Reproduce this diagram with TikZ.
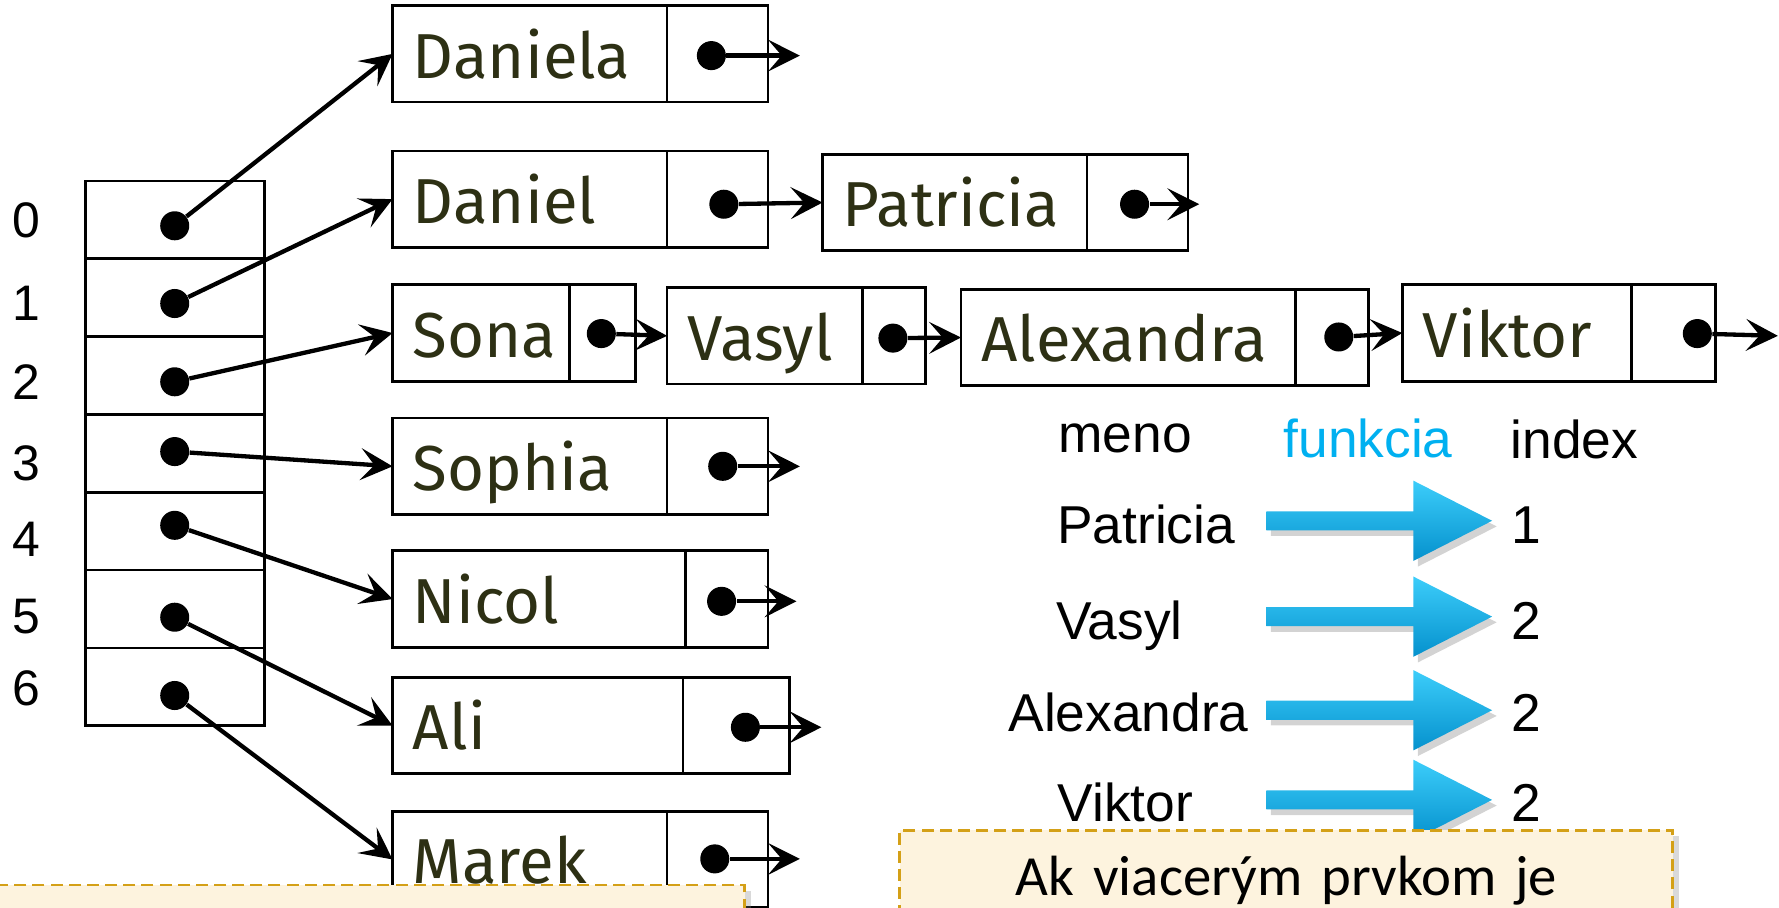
\documentclass[tikz,border=0pt]{standalone}
\usepackage{fontspec}
\setmainfont{Liberation Sans}
\newfontfamily\namefont{Fira Sans}
\newfontfamily\notefont{Carlito}
\usepackage{tikz}
\usetikzlibrary{arrows.meta, positioning, shapes.arrows, shadows}
\definecolor{namecol}{RGB}{45,48,20}
\definecolor{hashblue}{RGB}{0,176,240}
\definecolor{arrowtop}{RGB}{60,205,250}
\definecolor{arrowbot}{RGB}{5,145,205}
\definecolor{notegold}{RGB}{212,160,23}
\definecolor{notefill}{RGB}{253,243,222}

\begin{document}
\begin{tikzpicture}[x=0.5pt, y=-0.5pt,
    slot/.style={rectangle, draw, line width=1.2pt, outer sep=0pt, minimum width=78.75pt, minimum height=34.3pt},
    namecell/.style={rectangle, draw, line width=1.2pt, outer sep=0pt, inner xsep=9pt, inner ysep=0pt, minimum height=42.5pt, text width=#1, align=left, font=\namefont\fontsize{28}{28}\selectfont, text=namecol, text height=21.3pt, text depth=0pt},
    ptrcell/.style={rectangle, draw, line width=1.2pt, outer sep=0pt, minimum height=42.5pt, minimum width=#1},
    dot/.style={circle, fill=black, inner sep=0pt, minimum size=12.8pt},
    ptr/.style={line width=1.9pt, -{Stealth[length=14pt, width=14pt, inset=6pt]}},
    lbl/.style={font=\fontsize{22}{22}\selectfont},
    txt/.style={font=\fontsize{23.5}{23.5}\selectfont, anchor=base west, inner sep=0pt},
    hash/.style={single arrow, single arrow tip angle=54, single arrow head extend=13.5pt, inner sep=4pt, minimum height=99.5pt, anchor=tip, draw=none, top color=arrowtop, bottom color=arrowbot, drop shadow={shadow xshift=2pt, shadow yshift=-2.5pt, opacity=.35}},
    note/.style={rectangle, draw=notegold, fill=notefill, line width=1.3pt, dash pattern=on 5.3pt off 2.7pt, outer sep=0pt, drop shadow={shadow xshift=2.5pt, shadow yshift=-2.5pt, opacity=.3}}]
    \useasboundingbox (0,0) rectangle (1568,800);
    \clip (0,0) rectangle (1568,800);

    % hash table
    \node[slot] (s0) at (154.25, 193.8) {};
    \node[slot] (s1) at (154.25, 262.4) {};
    \node[slot] (s2) at (154.25, 331) {};
    \node[slot] (s3) at (154.25, 399.6) {};
    \node[slot] (s4) at (154.25, 468.2) {};
    \node[slot] (s5) at (154.25, 536.8) {};
    \node[slot] (s6) at (154.25, 605.4) {};

    \node[lbl] (i0) at (23.5, 194) {0};
    \node[lbl] (i1) at (23.5, 267) {1};
    \node[lbl] (i2) at (23.5, 337) {2};
    \node[lbl] (i3) at (23.5, 408) {3};
    \node[lbl] (i4) at (23.5, 475) {4};
    \node[lbl] (i5) at (23.5, 543) {5};
    \node[lbl] (i6) at (23.5, 607) {6};

    \node[dot] (a0) at (154, 199) {};
    \node[dot] (a1) at (154, 267.5) {};
    \node[dot] (a2) at (154, 336.5) {};
    \node[dot] (a3) at (154, 398) {};
    \node[dot] (a4) at (154, 463) {};
    \node[dot] (a5) at (154, 544) {};
    \node[dot] (a6) at (154, 613) {};

    % list nodes
    \node[namecell=103pt] (daniela) at (467, 47.5) {Daniela};
    \node[ptrcell=44.5pt, right=0pt of daniela] (danielaP) {};
    \node[namecell=103pt] (daniel) at (467, 175.5) {Daniel};
    \node[ptrcell=44.5pt, right=0pt of daniel] (danielP) {};
    \node[namecell=98.5pt] (patricia) at (841.5, 178.5) {Patricia};
    \node[ptrcell=44.5pt, right=0pt of patricia] (patriciaP) {};
    \node[namecell=60pt] (sona) at (424, 293.5) {Sona};
    \node[ptrcell=29pt, right=0pt of sona] (sonaP) {};
    \node[namecell=68pt] (vasyl) at (674, 296) {Vasyl};
    \node[ptrcell=28pt, right=0pt of vasyl] (vasylP) {};
    \node[namecell=129.5pt] (alexandra) at (994.5, 297.5) {Alexandra};
    \node[ptrcell=32pt, right=0pt of alexandra] (alexandraP) {};
    \node[namecell=83pt] (viktor) at (1337, 293.5) {Viktor};
    \node[ptrcell=37pt, right=0pt of viktor] (viktorP) {};
    \node[namecell=103pt] (sophia) at (467, 411) {Sophia};
    \node[ptrcell=44.5pt, right=0pt of sophia] (sophiaP) {};
    \node[namecell=111pt] (nicol) at (475, 528) {Nicol};
    \node[ptrcell=36.5pt, right=0pt of nicol] (nicolP) {};
    \node[namecell=110pt] (ali) at (474, 639.5) {Ali};
    \node[ptrcell=47pt, right=0pt of ali] (aliP) {};
    \node[namecell=103pt] (marek) at (467, 757.5) {Marek};
    \node[ptrcell=44.5pt, right=0pt of marek] (marekP) {};

    \node[dot] (danielaD) at (627, 49) {};
    \node[dot] (danielD) at (638, 180) {};
    \node[dot] (patriciaD) at (1000, 180) {};
    \node[dot] (sonaD) at (530, 294) {};
    \node[dot] (vasylD) at (787, 298) {};
    \node[dot] (alexandraD) at (1180, 297) {};
    \node[dot] (viktorD) at (1496, 294) {};
    \node[dot] (sophiaD) at (637, 411) {};
    \node[dot] (nicolD) at (636, 530) {};
    \node[dot] (aliD) at (657, 641) {};
    \node[dot] (marekD) at (630, 757) {};

    \coordinate (danielaE) at (705, 49);
    \coordinate (patriciaE) at (1057, 180);
    \coordinate (viktorE) at (1567, 296);
    \coordinate (sophiaE) at (705, 411);
    \coordinate (nicolE) at (702, 530);
    \coordinate (aliE) at (724, 641);
    \coordinate (marekE) at (705, 757);

    \draw[ptr] (a0) -- (daniela.west);
    \draw[ptr] (a1) -- (daniel.west);
    \draw[ptr] (a2) -- (sona.west);
    \draw[ptr] (a3) -- (sophia.west);
    \draw[ptr] (a4) -- (nicol.west);
    \draw[ptr] (a5) -- (ali.west);
    \draw[ptr] (a6) -- (marek.west);

    \draw[ptr] (danielaD) -- (danielaE);
    \draw[ptr] (danielD) -- (patricia.west);
    \draw[ptr] (patriciaD) -- (patriciaE);
    \draw[ptr] (sonaD) -- (vasyl.west);
    \draw[ptr] (vasylD) -- (alexandra.west);
    \draw[ptr] (alexandraD) -- (viktor.west);
    \draw[ptr] (viktorD) -- (viktorE);
    \draw[ptr] (sophiaD) -- (sophiaE);
    \draw[ptr] (nicolD) -- (nicolE);
    \draw[ptr] (aliD) -- (aliE);
    \draw[ptr] (marekD) -- (marekE);

    % meno -> index
    \node[txt] (meno) at (932.5, 399) {meno};
    \node[txt, text=hashblue] (funkcia) at (1131, 403) {funkcia};
    \node[txt] (index) at (1331, 404) {index};
    \node[txt] (k1) at (931.5, 479) {Patricia};
    \node[txt] (k2) at (930.5, 563.5) {Vasyl};
    \node[txt] (k3) at (888.5, 645) {Alexandra};
    \node[txt] (k4) at (932, 724) {Viktor};
    \node[txt] (v1) at (1332, 479) {1};
    \node[txt] (v2) at (1332, 563.5) {2};
    \node[txt] (v3) at (1332, 645) {2};
    \node[txt] (v4) at (1332, 724) {2};
    \node[hash] (h1) at (1316, 459) {};
    \node[hash] (h2) at (1316, 543.5) {};
    \node[hash] (h3) at (1316, 626) {};
    \node[hash] (h4) at (1316, 705) {};

    % notes
    \node[note, anchor=north west, minimum width=331.3pt, minimum height=40pt] (note1) at (-6, 780) {};
    \node[note, anchor=north, text width=322.75pt, align=center, inner xsep=9pt, inner ysep=10.7pt, font=\notefont\fontsize{25}{25}\selectfont, text height=18pt, text depth=30pt] (note2) at (1133.75, 731.6) {Ak viacerým prvkom je};
\end{tikzpicture}
\end{document}
